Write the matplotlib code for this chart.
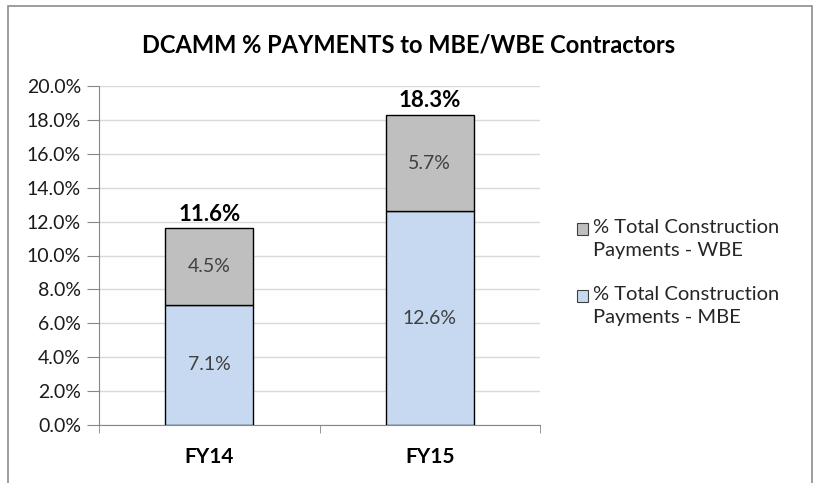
import matplotlib
matplotlib.use("Agg")
import matplotlib.pyplot as plt
from matplotlib.patches import Rectangle
from matplotlib.ticker import FuncFormatter, MultipleLocator

categories = ["FY14", "FY15"]
mbe = [7.1, 12.6]
wbe = [4.5, 5.7]
totals = [11.6, 18.3]
series_names = ["% Total Construction\nPayments - MBE", "% Total Construction\nPayments - WBE"]
title = "DCAMM % PAYMENTS to MBE/WBE Contractors"

plt.rcParams['font.family'] = ['Lato', 'DejaVu Sans']

W, H = 817, 483
fig = plt.figure(figsize=(W/100, H/100), dpi=100)
ax = fig.add_axes([99/W, 1-425/H, (540-99)/W, (425-86)/H])

c_mbe = "#C6D9F1"
c_wbe = "#BFBFBF"
x = list(range(len(categories)))
ax.bar(x, mbe, width=0.40, color=c_mbe, edgecolor="black", linewidth=1, zorder=3)
ax.bar(x, wbe, bottom=mbe, width=0.40, color=c_wbe, edgecolor="black", linewidth=1, zorder=3)

for i in x:
    ax.text(i, mbe[i]/2, f"{mbe[i]:.1f}%", ha="center", va="center", fontsize=14, color="#404040", zorder=4)
    ax.text(i, mbe[i] + wbe[i]/2, f"{wbe[i]:.1f}%", ha="center", va="center", fontsize=14, color="#404040", zorder=4)
    ax.text(i, totals[i] + 0.2, f"{totals[i]:.1f}%", ha="center", va="bottom", fontsize=16, fontweight="bold", color="black", zorder=4)

ax.set_xlim(-0.5, 1.5)
ax.set_ylim(0, 20)
ax.yaxis.set_major_locator(MultipleLocator(2))
ax.yaxis.set_major_formatter(FuncFormatter(lambda v, p: f"{v:.1f}%"))
ax.grid(axis="y", color="#D9D9D9", linewidth=1, zorder=0)
ax.set_axisbelow(True)

ax.set_xticks(x)
ax.set_xticklabels(categories, fontsize=15, fontweight="bold")
ax.tick_params(axis="x", length=0, pad=16)
ax.set_xticks([-0.5, 0.5, 1.5], minor=True)
ax.tick_params(axis="x", which="minor", length=6, color="#868686", direction="out")
ax.tick_params(axis="y", length=9, color="#868686", labelsize=14, labelcolor="#1a1a1a", pad=4)
for s in ["top", "right"]:
    ax.spines[s].set_visible(False)
for s in ["left", "bottom"]:
    ax.spines[s].set_color("#868686")

fig.text(0.5, 1-45/H, title, ha="center", va="center", fontsize=17, fontweight="bold")

# legend (WBE first, then MBE), square aligned with first text line
leg_items = [(series_names[1], c_wbe, 229), (series_names[0], c_mbe, 296)]
for label, col, ytop in leg_items:
    fig.patches.append(Rectangle((577/W, 1-(ytop+6)/H), 11/W, 12/H, transform=fig.transFigure,
                                 facecolor=col, edgecolor="#404040", linewidth=0.8))
    fig.text(593/W, 1-(ytop-10)/H, label, ha="left", va="top", fontsize=14.5,
             color="#262626", linespacing=1.42)

fig.patches.append(Rectangle((8/W, -0.05), (812-8)/W, 1.05-6/H, transform=fig.transFigure,
                             fill=False, edgecolor="#8C8C8C", linewidth=1.2))

fig.savefig("out.png", dpi=100)
